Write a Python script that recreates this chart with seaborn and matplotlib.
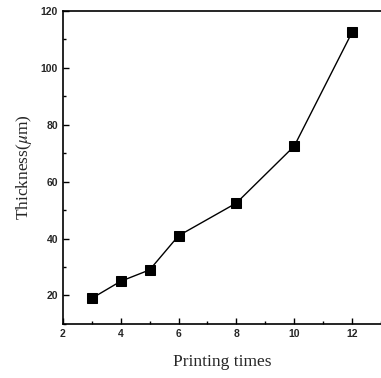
import numpy as np
import pandas as pd
import matplotlib
matplotlib.use("Agg")
import matplotlib.pyplot as plt
from matplotlib.ticker import MultipleLocator
import seaborn as sns

printing_times = [3, 4, 5, 6, 8, 10, 12]
thickness = [19, 25, 29, 41, 52.5, 72.5, 112.5]

df = pd.DataFrame({"times": printing_times, "thickness": thickness})

sns.set_style("ticks")
plt.rcParams["font.family"] = ["Liberation Sans", "DejaVu Sans"]
plt.rcParams["mathtext.fontset"] = "stix"

fig = plt.figure(figsize=(3.81, 3.78), dpi=100)
ax = fig.add_axes([0.165, 0.143, 0.835, 0.828])

sns.lineplot(data=df, x="times", y="thickness", marker="s", color="black",
             markersize=7, markeredgecolor="black", linewidth=1.0, ax=ax)

ax.set_xlim(2, 13)
ax.set_ylim(10, 120)
ax.xaxis.set_major_locator(MultipleLocator(2))
ax.xaxis.set_minor_locator(MultipleLocator(1))
ax.yaxis.set_major_locator(MultipleLocator(20))
ax.yaxis.set_minor_locator(MultipleLocator(10))
ax.tick_params(which="both", direction="in", labelsize=7.5, width=1, color="black")
ax.tick_params(which="major", length=4)
ax.tick_params(which="minor", length=2)
for lab in ax.get_xticklabels() + ax.get_yticklabels():
    lab.set_fontweight("bold")

for side in ["left", "bottom", "top"]:
    ax.spines[side].set_linewidth(1.2)
    ax.spines[side].set_color("black")
ax.spines["right"].set_visible(False)

ax.set_xlabel("Printing times", family=["Liberation Serif"], fontsize=12.5, labelpad=11)
ax.set_ylabel("Thickness($\\mu$m)", family=["Liberation Serif"], fontsize=12.5, labelpad=5)

fig.savefig("out.png", dpi=100)
